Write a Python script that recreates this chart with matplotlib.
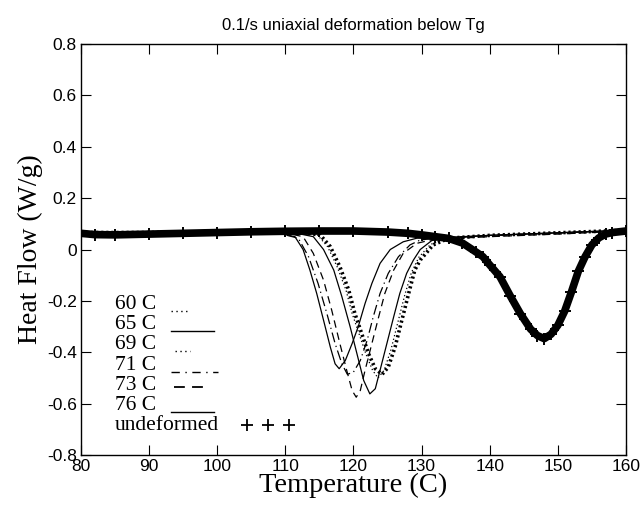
import numpy as np
import matplotlib
matplotlib.use("Agg")
import matplotlib.pyplot as plt

# curvas DSC (temperatura en C, flujo de calor en W/g)
t_65 = [80, 90, 100, 108, 111.4, 112.6, 113.6, 114.6, 115.6, 116.6, 117.3, 117.9, 118.8, 119.8,
        120.7, 121.7, 122.7, 123.9, 125.4, 127.3, 129.3, 131, 133, 136, 140, 150, 160]
h_65 = [0.066, 0.066, 0.07, 0.07, 0.05, 0.0, -0.08, -0.171, -0.275, -0.38, -0.445, -0.464, -0.432, -0.366,
        -0.30, -0.21, -0.132, -0.054, 0.0, 0.03, 0.044, 0.045, 0.046, 0.05, 0.055, 0.065, 0.075]

t_71 = [80, 90, 100, 108, 111.9, 113.4, 114.8, 116.1, 117.3, 118.3, 119.1, 120.0, 121.0, 122.0,
        122.9, 123.9, 125.1, 126.6, 128.3, 129.8, 132, 134, 140, 150, 160]
h_71 = [0.066, 0.066, 0.07, 0.07, 0.044, -0.028, -0.132, -0.25, -0.366, -0.445, -0.486, -0.477, -0.432, -0.354,
        -0.262, -0.171, -0.093, -0.028, 0.018, 0.037, 0.044, 0.046, 0.054, 0.064, 0.074]

t_73 = [80, 90, 100, 109, 112.6, 114.1, 115.6, 116.8, 118.0, 119.0, 119.8, 120.4, 121.0, 121.7,
        122.7, 123.7, 124.6, 125.9, 127.3, 129.3, 131.5, 134, 140, 150, 160]
h_73 = [0.066, 0.066, 0.07, 0.07, 0.05, -0.015, -0.119, -0.236, -0.366, -0.47, -0.549, -0.575, -0.549, -0.47,
        -0.366, -0.262, -0.171, -0.08, -0.015, 0.024, 0.038, 0.042, 0.05, 0.06, 0.072]

t_76 = [80, 90, 100, 110, 114.1, 115.6, 117.1, 118.3, 119.5, 120.5, 121.5, 122.4, 123.2, 123.9,
        124.9, 125.9, 126.8, 127.8, 128.8, 129.8, 131.5, 134, 140, 150, 160]
h_76 = [0.066, 0.066, 0.07, 0.072, 0.05, 0.0, -0.08, -0.184, -0.30, -0.405, -0.51, -0.562, -0.542, -0.47,
        -0.366, -0.262, -0.171, -0.093, -0.041, 0.0, 0.035, 0.045, 0.055, 0.065, 0.075]

t_69 = [80, 90, 100, 110, 114.7, 116.2, 117.6, 118.9, 119.8, 120.8, 121.8, 122.8, 123.6, 124.5,
        125.5, 126.5, 127.5, 128.5, 129.6, 131.3, 134, 140, 150, 160]
h_69 = [0.066, 0.066, 0.07, 0.072, 0.057, 0.011, -0.067, -0.158, -0.249, -0.327, -0.405, -0.47, -0.5, -0.47,
        -0.39, -0.285, -0.18, -0.09, -0.03, 0.02, 0.044, 0.055, 0.065, 0.075]

t_60 = [80, 90, 100, 110, 115.1, 116.6, 118.0, 119.3, 120.2, 121.2, 122.2, 123.2, 124.2, 125.1,
        126.1, 127.1, 128.1, 129.0, 129.8, 131.7, 134, 140, 150, 160]
h_60 = [0.066, 0.066, 0.07, 0.072, 0.057, 0.011, -0.067, -0.158, -0.249, -0.327, -0.405, -0.464, -0.486, -0.458,
        -0.38, -0.275, -0.171, -0.08, -0.041, 0.018, 0.044, 0.055, 0.065, 0.075]

t_und = [80, 82, 85, 90, 95, 100, 105, 110, 115, 120, 125, 128, 130, 132, 134, 136, 138, 139, 140,
         141.5, 143, 144.5, 146, 147, 148, 149, 150, 151, 152, 153, 154, 155, 156, 157, 158, 160]
h_und = [0.063, 0.058, 0.057, 0.06, 0.063, 0.066, 0.069, 0.071, 0.072, 0.072, 0.068, 0.063, 0.057, 0.05, 0.043,
         0.025, -0.01, -0.028, -0.06, -0.106, -0.18, -0.25, -0.31, -0.335, -0.347, -0.33, -0.295, -0.24,
         -0.165, -0.085, -0.028, 0.018, 0.045, 0.06, 0.066, 0.072]

etiquetas = ["60 C", "65 C", "69 C", "71 C", "73 C", "76 C", "undeformed"]

serif = "Liberation Serif"
sans = "Liberation Sans"

fig = plt.figure(figsize=(6.44, 5.08), dpi=100)
ax = fig.add_axes([0.1258, 0.1043, 0.972 - 0.1258, 0.9134 - 0.1043])

k = "black"
ax.plot(t_und, h_und, color=k, lw=5.5, marker="+", ms=8, mew=1.4, solid_capstyle="round")
ax.plot(t_60, h_60, color=k, lw=2.6, ls=(0, (0.6, 0.8)))
ax.plot(t_69, h_69, color=k, lw=0.9, ls=(0, (1, 2)))
ax.plot(t_65, h_65, color=k, lw=0.9)
ax.plot(t_71, h_71, color=k, lw=0.9, ls=(0, (8, 3, 1, 3)))
ax.plot(t_73, h_73, color=k, lw=0.9, ls=(0, (6, 4)))
ax.plot(t_76, h_76, color=k, lw=0.9)

ax.set_xlim(80, 160)
ax.set_ylim(-0.8, 0.8)
ax.set_xticks(np.arange(80, 161, 10))
ax.set_yticks(np.arange(-0.8, 0.81, 0.2))
ax.set_yticklabels(["%.1f" % v if abs(v) > 1e-9 else "0" for v in np.arange(-0.8, 0.81, 0.2)])
ax.tick_params(direction="in", top=True, right=True, length=7, width=0.8, labelsize=12.5, pad=3)
for lab in ax.get_xticklabels() + ax.get_yticklabels():
    lab.set_family(sans)
for s in ax.spines.values():
    s.set_linewidth(1.0)

ax.set_title("0.1/s uniaxial deformation below Tg", family=sans, fontsize=12, pad=10)
ax.set_xlabel("Temperature (C)", family=serif, fontsize=20.5, labelpad=-1)
ax.set_ylabel("Heat Flow (W/g)", family=serif, fontsize=20, labelpad=3)

# leyenda hecha a mano: texto a la izquierda y muestra de linea a continuacion
x_txt = 0.062
ys = [0.366, 0.317, 0.268, 0.219, 0.170, 0.121, 0.072]
for y, lab in zip(ys, etiquetas):
    ax.text(x_txt, y, lab, transform=ax.transAxes, family=serif, fontsize=15.5, va="center", ha="left")

tr = ax.transAxes
b = -0.016
ax.plot([0.165, 0.196], [ys[0] + b] * 2, transform=tr, color=k, lw=1.0, ls=(0, (1, 2.5)))
ax.plot([0.165, 0.244], [ys[1] + b] * 2, transform=tr, color=k, lw=1.0)
ax.plot([0.172, 0.2], [ys[2] + b] * 2, transform=tr, color=k, lw=1.0, ls=(0, (1, 2.5)))
ax.plot([0.165, 0.251], [ys[3] + b] * 2, transform=tr, color=k, lw=1.0, ls=(0, (6, 4, 1, 4)))
ax.plot([0.17, 0.228], [ys[4] - 0.004] * 2, transform=tr, color=k, lw=1.3, ls=(0, (6, 4)))
ax.plot([0.165, 0.244], [ys[5] + b] * 2, transform=tr, color=k, lw=1.0)
ax.plot([0.304, 0.344, 0.381], [ys[6]] * 3, transform=tr, color=k, ls="none",
        marker="+", ms=9, mew=1.3)

fig.savefig("out.png", dpi=100)
